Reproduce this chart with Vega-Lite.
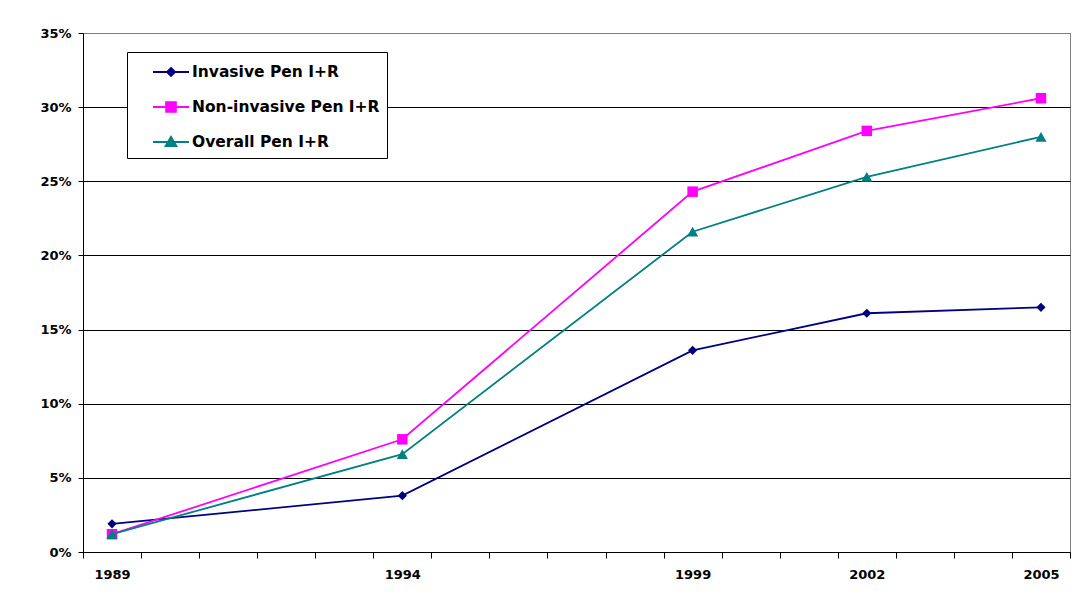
{
  "$schema": "https://vega.github.io/schema/vega-lite/v6.json",
  "width": 987,
  "height": 519,
  "autosize": {"type": "none"},
  "padding": {"left": 83, "top": 33, "right": 20, "bottom": 49},
  "background": "white",
  "config": {"view": {"stroke": "#808080", "strokeWidth": 1}, "font": "DejaVu Sans"},
  "data": {"values": [
    {"year": 1989, "series": "Invasive Pen I+R", "value": 0.019},
    {"year": 1994, "series": "Invasive Pen I+R", "value": 0.038},
    {"year": 1999, "series": "Invasive Pen I+R", "value": 0.136},
    {"year": 2002, "series": "Invasive Pen I+R", "value": 0.161},
    {"year": 2005, "series": "Invasive Pen I+R", "value": 0.165},
    {"year": 1989, "series": "Non-invasive Pen I+R", "value": 0.012},
    {"year": 1994, "series": "Non-invasive Pen I+R", "value": 0.076},
    {"year": 1999, "series": "Non-invasive Pen I+R", "value": 0.243},
    {"year": 2002, "series": "Non-invasive Pen I+R", "value": 0.284},
    {"year": 2005, "series": "Non-invasive Pen I+R", "value": 0.306},
    {"year": 1989, "series": "Overall Pen I+R", "value": 0.012},
    {"year": 1994, "series": "Overall Pen I+R", "value": 0.066},
    {"year": 1999, "series": "Overall Pen I+R", "value": 0.216},
    {"year": 2002, "series": "Overall Pen I+R", "value": 0.253},
    {"year": 2005, "series": "Overall Pen I+R", "value": 0.280}
  ]},
  "encoding": {
    "y": {
      "field": "value", "type": "quantitative",
      "scale": {"domain": [0, 0.35], "nice": false},
      "axis": {
        "title": null,
        "values": [0, 0.05, 0.1, 0.15, 0.2, 0.25, 0.3, 0.35],
        "format": ".0%",
        "grid": true,
        "gridColor": {"condition": {"test": "datum.value > 0.34", "value": "#808080"}, "value": "black"},
        "gridWidth": 1,
        "domainColor": "black", "tickColor": "black", "tickSize": 5,
        "labelFont": "DejaVu Sans", "labelFontSize": 13, "labelFontWeight": "bold", "labelColor": "black",
        "labelPadding": 7
      }
    }
  },
  "resolve": {"axis": {"x": "independent"}},
  "layer": [
    {
      "transform": [{"filter": "datum.series == 'Invasive Pen I+R'"}],
      "mark": {"type": "line", "color": "#000080", "strokeWidth": 1.8,
        "point": {"shape": "diamond", "filled": true, "size": 85, "color": "#000080"}},
      "encoding": {
        "x": {
          "field": "year", "type": "quantitative",
          "scale": {"domain": [1988.5, 2005.5], "nice": false, "zero": false},
          "axis": {
            "orient": "bottom",
            "title": null, "grid": false,
            "values": [1989, 1994, 1999, 2002, 2005],
            "format": "d",
            "ticks": false, "tickSize": 0,
            "labelOverlap": false, "labelFlush": false,
            "domainColor": "black", "domainWidth": 1,
            "labelFont": "DejaVu Sans", "labelFontSize": 13, "labelFontWeight": "bold", "labelColor": "black",
            "labelPadding": 16
          }
        }
      }
    },
    {
      "transform": [{"filter": "datum.series == 'Non-invasive Pen I+R'"}],
      "mark": {"type": "line", "color": "#FF00FF", "strokeWidth": 1.8,
        "point": {"shape": "square", "filled": true, "size": 110, "color": "#FF00FF"}},
      "encoding": {
        "x": {
          "field": "year", "type": "quantitative",
          "scale": {"domain": [1988.5, 2005.5], "nice": false, "zero": false},
          "axis": {
            "orient": "bottom",
            "title": null, "grid": false, "labels": false, "domain": false,
            "values": [1988.5, 1989.5, 1990.5, 1991.5, 1992.5, 1993.5, 1994.5, 1995.5, 1996.5, 1997.5, 1998.5, 1999.5, 2000.5, 2001.5, 2002.5, 2003.5, 2004.5, 2005.5],
            "tickColor": "black", "tickSize": 6, "tickWidth": 1
          }
        }
      }
    },
    {
      "transform": [{"filter": "datum.series == 'Overall Pen I+R'"}],
      "mark": {"type": "line", "color": "#008080", "strokeWidth": 1.8,
        "point": {"shape": "triangle-up", "filled": true, "size": 125, "color": "#008080"}},
      "encoding": {
        "x": {
          "field": "year", "type": "quantitative",
          "scale": {"domain": [1988.5, 2005.5], "nice": false, "zero": false},
          "axis": null
        }
      }
    },
    {
      "transform": [{"filter": "datum.year < 0"}],
      "mark": {"type": "point", "filled": true, "size": 576, "strokeWidth": 2, "opacity": 1},
      "encoding": {
        "x": {
          "field": "year", "type": "quantitative",
          "scale": {"domain": [1988.5, 2005.5], "nice": false, "zero": false},
          "axis": null
        },
        "shape": {
          "field": "series", "type": "nominal",
          "scale": {
            "domain": ["Invasive Pen I+R", "Non-invasive Pen I+R", "Overall Pen I+R"],
            "range": [
              "M0.5,0H3.5M2,-0.33L2.33,0L2,0.33L1.67,0Z",
              "M0.5,0H3.5M1.6,-0.4H2.4V0.4H1.6Z",
              "M0.5,0H3.5M2,-0.42L2.44,0.34L1.56,0.34Z"
            ]
          },
          "legend": {
            "title": null, "orient": "none", "legendX": 44, "legendY": 19,
            "fillColor": "white", "strokeColor": "black",
            "padding": 7, "symbolSize": 576, "symbolStrokeWidth": 2,
            "labelOffset": 32, "rowPadding": 13,
            "labelFont": "DejaVu Sans", "labelFontSize": 15.5, "labelFontWeight": "bold", "labelColor": "black",
            "labelLimit": 400,
            "labelExpr": "datum.label + '        '"
          }
        },
        "fill": {
          "field": "series", "type": "nominal",
          "scale": {"domain": ["Invasive Pen I+R", "Non-invasive Pen I+R", "Overall Pen I+R"], "range": ["#000080", "#FF00FF", "#008080"]},
          "legend": {"title": null}
        },
        "stroke": {
          "field": "series", "type": "nominal",
          "scale": {"domain": ["Invasive Pen I+R", "Non-invasive Pen I+R", "Overall Pen I+R"], "range": ["#000080", "#FF00FF", "#008080"]},
          "legend": {"title": null}
        }
      }
    }
  ]
}
